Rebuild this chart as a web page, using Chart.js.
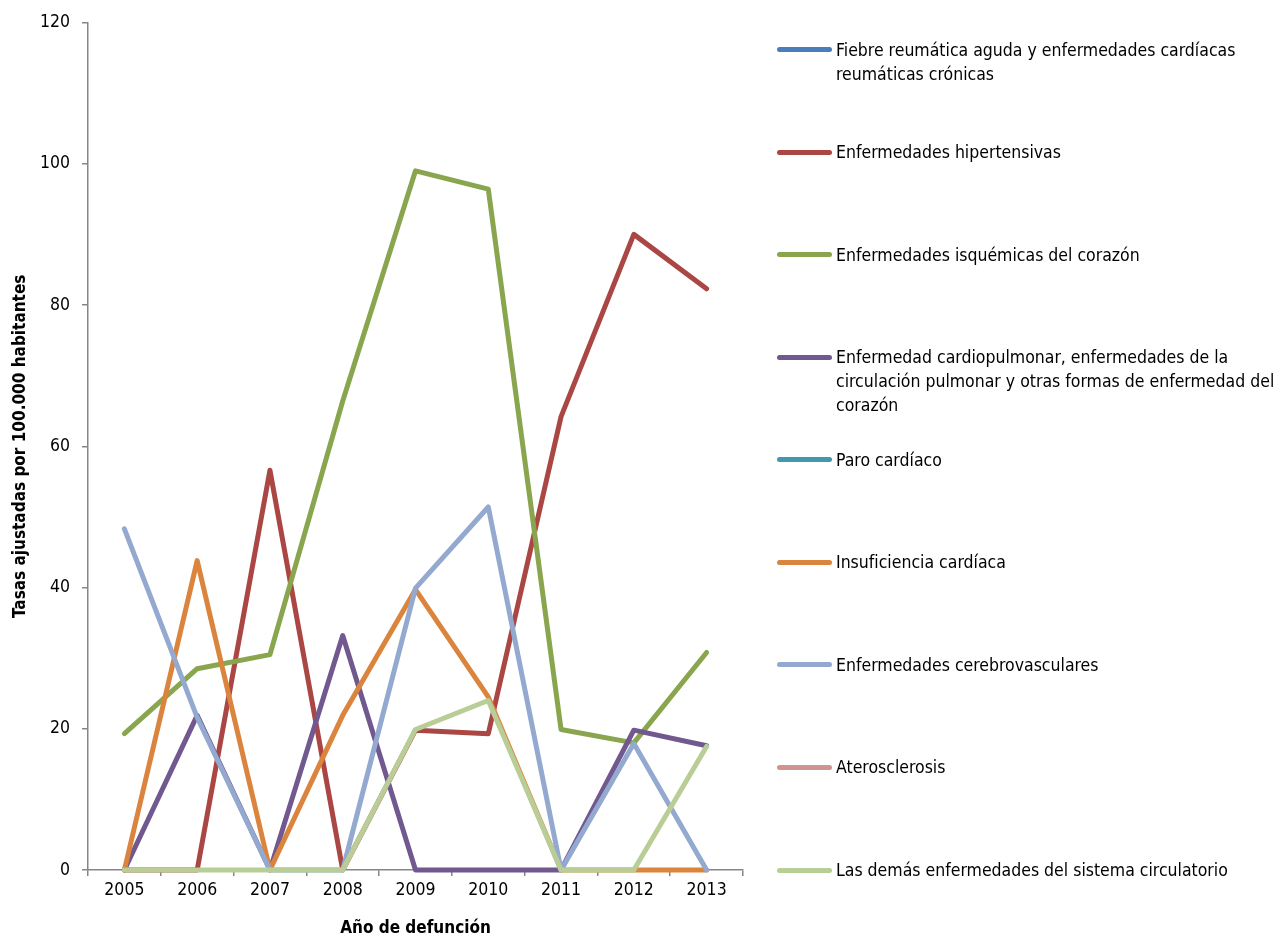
<!DOCTYPE html>
<html lang="es">
<head>
<meta charset="utf-8">
<title>Tasas ajustadas por 100.000 habitantes</title>
<script src="https://cdn.jsdelivr.net/npm/chart.js@4.4.1/dist/chart.umd.min.js"></script>
<style>
  html, body { margin: 0; padding: 0; background: #fff; }
  #wrap { position: relative; width: 1278px; height: 939px; }
  #chart { position: absolute; left: 0; top: 0; }
  #legend { position: absolute; left: 0; top: 0; width: 1278px; height: 939px; pointer-events: none; }
  .lg-item { position: absolute; left: 777px; }
  .lg-swatch { position: absolute; left: 0; width: 55px; height: 5px; border-radius: 3px; }
  .lg-text {
    position: absolute; left: 59px; width: 442px;
    font-family: "Liberation Sans Narrow", "Arial Narrow", "DejaVu Sans Condensed", sans-serif;
    font-size: 17.5px; line-height: 24px; color: #000; white-space: normal;
  }
</style>
</head>
<body>
<div id="wrap">
  <canvas id="chart" width="1278" height="939"></canvas>
  <div id="legend"></div>
</div>
<script>
const years = ['2005', '2006', '2007', '2008', '2009', '2010', '2011', '2012', '2013'];

const seriesNames = [
  'Fiebre reumática aguda y enfermedades cardíacas reumáticas crónicas',
  'Enfermedades hipertensivas',
  'Enfermedades isquémicas del corazón',
  'Enfermedad cardiopulmonar, enfermedades de la circulación pulmonar y otras formas de enfermedad del corazón',
  'Paro cardíaco',
  'Insuficiencia cardíaca',
  'Enfermedades cerebrovasculares',
  'Aterosclerosis',
  'Las demás enfermedades del sistema circulatorio'
];

// valores (las series sin trazo visible quedan vacías)
const fiebre         = [null, null, null, null, null, null, null, null, null];
const hipertensivas  = [0, 0, 56.6, 0, 19.8, 19.3, 64.2, 90.0, 82.3];
const isquemicas     = [19.3, 28.5, 30.5, 66.4, 99.0, 96.4, 19.9, 18.0, 30.8];
const cardiopulmonar = [0, 21.9, 0, 33.2, 0, 0, 0, 19.8, 17.6];
const paro           = [null, null, null, null, null, null, null, null, null];
const insuficiencia  = [0, 43.8, 0, 21.9, 39.7, 24.5, 0, 0, 0];
const cerebro        = [48.3, 21.6, 0, 0, 39.9, 51.4, 0, 17.9, 0];
const aterosclerosis = [null, null, null, null, null, null, null, null, null];
const demas          = [0, 0, 0, 0, 19.9, 24.0, 0, 0, 17.5];

const yTicks = [0, 20, 40, 60, 80, 100, 120];

const seriesValues = [fiebre, hipertensivas, isquemicas, cardiopulmonar, paro,
                      insuficiencia, cerebro, aterosclerosis, demas];
const colors = ['#4A7EBB', '#AA4643', '#89A54E', '#71588F', '#4198AF',
                '#DB843D', '#93A9CF', '#D19392', '#B9CD96'];

const axisColor = '#868686';
const fontFamily = '"Liberation Sans Narrow", "Arial Narrow", "DejaVu Sans Condensed", sans-serif';

const datasets = seriesValues.map((vals, i) => ({
  label: seriesNames[i],
  data: vals,
  borderColor: colors[i],
  backgroundColor: colors[i],
  borderWidth: 5,
  pointRadius: 0,
  pointHoverRadius: 0,
  tension: 0,
  fill: false,
  clip: false,
  borderJoinStyle: 'round',
  borderCapStyle: 'round',
  order: seriesValues.length - 1 - i // la última serie queda encima, como en Excel
}));

const chart = new Chart(document.getElementById('chart').getContext('2d'), {
  type: 'line',
  data: { labels: years, datasets },
  options: {
    responsive: false,
    animation: false,
    layout: { padding: { left: 0, top: 20, right: 535, bottom: 0 } },
    plugins: {
      legend: { display: false },
      tooltip: { enabled: false }
    },
    scales: {
      x: {
        type: 'category',
        offset: true,
        grid: { offset: true, drawOnChartArea: false, drawTicks: true, tickLength: 6, color: axisColor, lineWidth: 1.5 },
        border: { display: true, color: axisColor, width: 1.5 },
        ticks: { color: '#000', font: { family: fontFamily, size: 17.5 }, padding: 4, maxRotation: 0 },
        title: { display: true, text: 'Año de defunción', color: '#000',
                 font: { family: fontFamily, size: 17, weight: 'bold' }, padding: { top: 0, bottom: 0 } },
        afterFit: (scale) => { scale.height = 69; }
      },
      y: {
        min: 0,
        max: 120,
        afterBuildTicks: (scale) => { scale.ticks = yTicks.map(v => ({ value: v })); },
        grid: { drawOnChartArea: false, drawTicks: true, tickLength: 6, color: axisColor, lineWidth: 1.5 },
        border: { display: true, color: axisColor, width: 1.5 },
        ticks: { color: '#000', font: { family: fontFamily, size: 17.5 }, padding: 12 },
        title: { display: true, text: 'Tasas ajustadas por 100.000 habitantes', color: '#000',
                 font: { family: fontFamily, size: 17, weight: 'bold' }, padding: { top: 10, bottom: 0 } },
        afterFit: (scale) => { scale.width = 88; }
      }
    }
  }
});

// leyenda a la derecha, repartida a lo alto del área de trazado
function buildLegend() {
  const area = chart.chartArea;
  const legend = document.getElementById('legend');
  const first = area.top + 27;
  const step = (area.bottom - first) / (seriesNames.length - 1);
  seriesNames.forEach((name, i) => {
    const cy = first + i * step;
    const item = document.createElement('div');
    item.className = 'lg-item';
    item.style.top = cy + 'px';
    const sw = document.createElement('div');
    sw.className = 'lg-swatch';
    sw.style.background = colors[i];
    sw.style.top = '-2.5px';
    const tx = document.createElement('div');
    tx.className = 'lg-text';
    tx.style.top = '-12px';
    tx.textContent = name;
    item.appendChild(sw);
    item.appendChild(tx);
    legend.appendChild(item);
  });
}
buildLegend();
</script>
</body>
</html>
